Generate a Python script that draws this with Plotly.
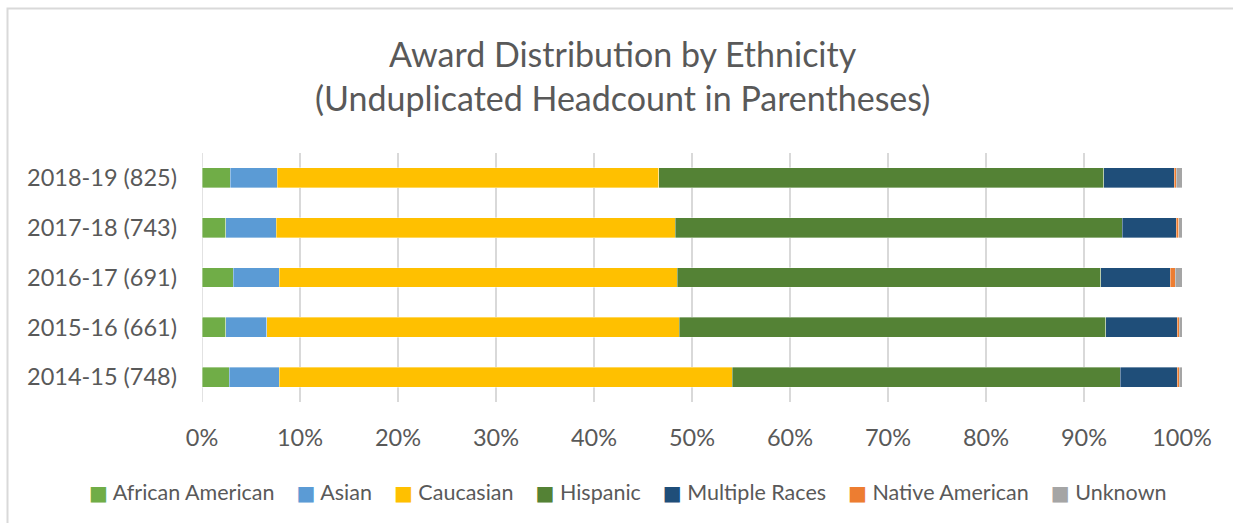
import plotly.graph_objects as go

years = ["2014-15 (748)", "2015-16 (661)", "2016-17 (691)", "2017-18 (743)", "2018-19 (825)"]
african_american = [2.8, 2.4, 3.2, 2.4, 2.9]
asian = [5.1, 4.2, 4.7, 5.2, 4.8]
caucasian = [46.2, 42.1, 40.6, 40.7, 38.9]
hispanic = [39.6, 43.5, 43.2, 45.6, 45.4]
multiple_races = [5.8, 7.3, 7.1, 5.5, 7.2]
native_american = [0.2, 0.2, 0.5, 0.25, 0.2]
unknown = [0.3, 0.3, 0.7, 0.35, 0.6]

series = [
    ("African American", african_american, "#70AD47"),
    ("Asian", asian, "#5B9BD5"),
    ("Caucasian", caucasian, "#FFC000"),
    ("Hispanic", hispanic, "#548235"),
    ("Multiple Races", multiple_races, "#1F4E79"),
    ("Native American", native_american, "#ED7D31"),
    ("Unknown", unknown, "#A5A5A5"),
]

FONT = "Lato, Calibri, sans-serif"
GREY = "#595959"

fig = go.Figure()
for name, vals, color in series:
    fig.add_trace(go.Bar(
        y=years, x=[v / 100 for v in vals], name=name, orientation="h",
        marker=dict(color=color, line=dict(width=0.6, color="rgba(255,255,255,0.6)")),
        showlegend=False,
    ))

# legend drawn as one centred text line (symbol + name for each series)
legend_text = "\u00a0\u00a0\u00a0\u00a0".join(
    f'<span style="color:{c};font-size:20px;font-family:DejaVu Sans">\u25a0</span>\u00a0{n}'
    for n, _, c in series
)

fig.update_layout(
    barmode="stack",
    bargap=0.6,
    width=1233, height=523,
    margin=dict(l=202, r=51, t=153, b=121),
    paper_bgcolor="white", plot_bgcolor="white",
    title=dict(
        text="Award Distribution by Ethnicity<br>(Unduplicated Headcount in Parentheses)",
        x=0.505, xref="container", xanchor="center",
        y=(523 - 67) / 523, yref="container", yanchor="middle",
        font=dict(family=FONT, size=34, color=GREY),
    ),
    xaxis=dict(
        range=[0, 1], tickformat=".0%", dtick=0.1,
        showgrid=True, gridcolor="#D9D9D9", gridwidth=1.5,
        zeroline=False, showline=False,
        tickfont=dict(family=FONT, size=23.5, color=GREY),
        ticks="", ticklabelstandoff=19,
    ),
    yaxis=dict(
        tickfont=dict(family=FONT, size=23.5, color=GREY),
        showgrid=False, ticks="", ticklabelstandoff=24,
    ),
    annotations=[dict(
        text=legend_text, xref="paper", yref="paper",
        x=(628 - 202) / 980, y=(402 - 492) / 249,
        xanchor="center", yanchor="middle", showarrow=False,
        font=dict(family=FONT, size=21.5, color=GREY),
    )],
    shapes=[dict(
        type="line", xref="x", yref="paper", x0=0, x1=0, y0=0, y1=1,
        line=dict(color="#D9D9D9", width=1.5), layer="below",
    ), dict(
        type="rect", xref="paper", yref="paper",
        x0=(7.5 - 202) / 980, x1=(1260 - 202) / 980,
        y0=(402 - 560) / 249, y1=(402 - 8.5) / 249,
        line=dict(color="#D9D9D9", width=2), layer="below",
    )],
)

fig.write_html("out.html", config={"displayModeBar": False},
               post_script="document.body.style.margin='0';document.body.style.padding='0';")
